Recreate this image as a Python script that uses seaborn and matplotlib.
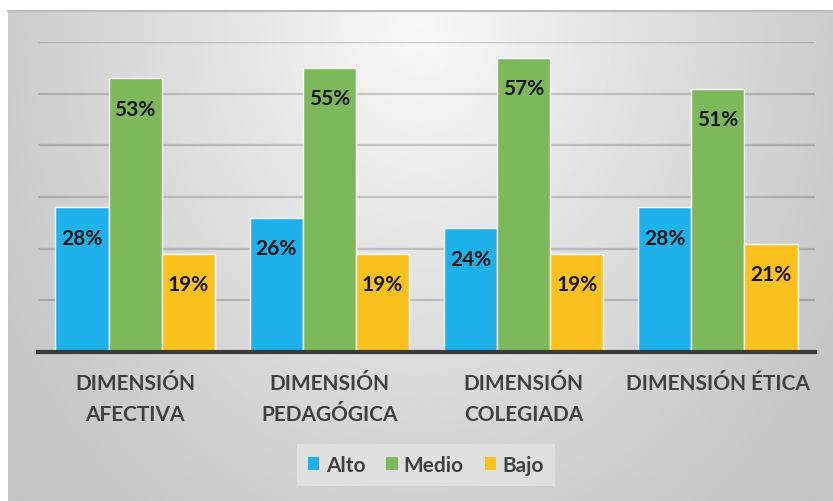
import numpy as np
import pandas as pd
import matplotlib
matplotlib.use("Agg")
import matplotlib.pyplot as plt
import seaborn as sns
from matplotlib.lines import Line2D

# datos del grafico
dimensiones = ["DIMENSIÓN\nAFECTIVA", "DIMENSIÓN\nPEDAGÓGICA", "DIMENSIÓN\nCOLEGIADA", "DIMENSIÓN ÉTICA"]
niveles = ["Alto", "Medio", "Bajo"]
alto = [28, 26, 24, 28]
medio = [53, 55, 57, 51]
bajo = [19, 19, 19, 21]
colores = ["#1FB2EA", "#7DB85B", "#FBC11F"]

df = pd.DataFrame({
    "dimension": dimensiones * 3,
    "nivel": ["Alto"] * 4 + ["Medio"] * 4 + ["Bajo"] * 4,
    "valor": alto + medio + bajo,
})

sns.set_style("white")
plt.rcParams["font.family"] = ["Lato", "DejaVu Sans"]
texto = "#404040"

fig = plt.figure(figsize=(8.33, 5.02), dpi=100)
fig.patch.set_facecolor("white")

# fondo con degradado radial
W, H = 833, 502
x0, top = 8 / W, 1 - 12 / H
bg = fig.add_axes([x0, 0, 1 - x0, top], zorder=0)
gx = np.linspace(0, 1, 400)
gy = np.linspace(0, 1, 250)
X, Y = np.meshgrid(gx, gy)
d = np.sqrt(((X - 0.5) / 0.58) ** 2 + ((Y - 0.02) / 1.25) ** 2)
v = 0.975 - 0.2 * np.clip(d, 0, 1)
bg.imshow(v, cmap="gray", vmin=0, vmax=1, aspect="auto", extent=(0, 1, 1, 0))
bg.set_axis_off()
fig.lines.append(Line2D([x0, 1], [top, top], transform=fig.transFigure,
                        color="#bdbdbd", linewidth=1.5, zorder=1))

ax = fig.add_axes([38 / W, 1 - 353 / H, (815 - 38) / W, (353 - 43) / H], zorder=2)
ax.patch.set_alpha(0)

sns.barplot(data=df, x="dimension", y="valor", hue="nivel", hue_order=niveles,
            palette=colores, width=0.82, edgecolor="white", linewidth=1,
            saturation=1, ax=ax, zorder=3)

ax.set_ylim(0, 60)
ax.set_xlim(-0.5, 3.5)
ax.set_yticks(range(10, 61, 10))
ax.yaxis.grid(True, color="black", alpha=0.17, linewidth=1.6, zorder=0)
ax.set_axisbelow(True)
ax.set_yticklabels([])
ax.tick_params(axis="y", length=0)
ax.tick_params(axis="x", length=0, pad=15)
for s in ["top", "right", "left"]:
    ax.spines[s].set_visible(False)
ax.spines["bottom"].set_color("#3a3a3a")
ax.spines["bottom"].set_linewidth(3)
ax.spines["bottom"].set_zorder(5)
ax.set_xlabel("")
ax.set_ylabel("")
for lab in ax.get_xticklabels():
    lab.set_fontsize(15)
    lab.set_fontweight("bold")
    lab.set_color(texto)
    lab.set_linespacing(1.7)

# etiquetas de valor dentro de las barras
for cont in ax.containers:
    for barra in cont:
        h = barra.get_height()
        ax.annotate(f"{h:.0f}%", (barra.get_x() + barra.get_width() / 2, h),
                    xytext=(0, -22), textcoords="offset points", ha="center", va="center",
                    fontsize=15, fontweight="bold", color="#151515", zorder=6)

handles, labels = ax.get_legend_handles_labels()
ax.legend_.remove()
leg = fig.legend(handles, labels, loc="center", bbox_to_anchor=(426 / W, 1 - 466 / H),
                 ncol=3, frameon=True, fontsize=15, handlelength=0.55, handleheight=0.55,
                 handletextpad=0.3, columnspacing=1.0, borderpad=0.55, fancybox=False)
leg.get_frame().set_facecolor("#e4e4e4")
leg.get_frame().set_edgecolor("none")
leg.get_frame().set_alpha(0.8)
for t in leg.get_texts():
    t.set_fontweight("bold")
    t.set_color(texto)
for h in leg.legend_handles:
    h.set_edgecolor("none")

fig.savefig("out.png", dpi=100)
